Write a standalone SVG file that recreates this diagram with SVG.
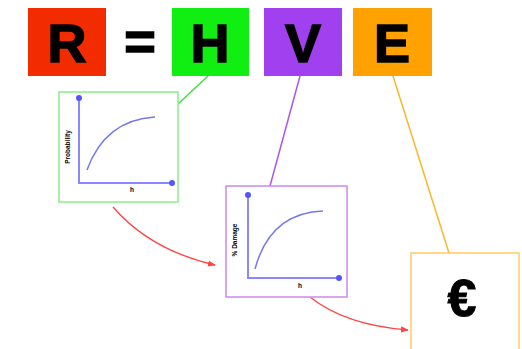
<svg xmlns="http://www.w3.org/2000/svg" width="522" height="349" viewBox="0 0 522 349">
<defs>
<style>
.big{font-family:"Liberation Sans",Arial,sans-serif;font-weight:bold;font-size:54px;fill:#000;text-anchor:middle;stroke:#000;stroke-width:1.5}
.ax{stroke:#8888ff;stroke-width:2;fill:none}
.cv{stroke:#7777ee;stroke-width:1.5;fill:none}
.lbl{font-family:"Liberation Sans",Arial,sans-serif;font-weight:bold;font-size:6.5px;fill:#000;text-anchor:middle}
.red{stroke:#ff4444;stroke-width:1.3;fill:none;marker-end:url(#ah)}
</style>
<marker id="ah" viewBox="0 0 10 10" refX="9" refY="5" markerWidth="6" markerHeight="6" orient="auto">
<path d="M0,1 L10,5 L0,9 z" fill="#ff4444"/>
</marker>
<marker id="dot" viewBox="0 0 10 10" refX="5" refY="5" markerWidth="3" markerHeight="3">
<circle cx="5" cy="5" r="5" fill="#5555ff"/>
</marker>
</defs>
<rect width="522" height="349" fill="#fff"/>
<g id="connectors">
<line x1="208" y1="76" x2="178" y2="104" stroke="#44dd44" stroke-width="1.5"/>
<line x1="300" y1="76" x2="270" y2="186" stroke="#aa55ee" stroke-width="1.5"/>
<line x1="393" y1="76" x2="449" y2="253" stroke="#f5b830" stroke-width="1.5"/>
<path class="red" d="M113,207 Q150,250 215,265"/>
<path class="red" d="M310,297 Q345,325 408,330"/>
</g>
<g id="R"><rect x="28" y="8" width="78" height="68" fill="#f32c00"/><text class="big" x="67" y="62">R</text></g>
<g id="eq"><text class="big" x="140" y="60">=</text></g>
<g id="H"><rect x="172" y="8" width="77" height="68" fill="#11ee11"/><text class="big" x="210" y="62">H</text></g>
<g id="V"><rect x="264" y="8" width="78" height="68" fill="#a040ee"/><text class="big" x="303" y="62">V</text></g>
<g id="E"><rect x="353" y="8" width="79" height="68" fill="#ffa200"/><text class="big" x="392" y="62">E</text></g>
<g id="graph1">
<rect x="59" y="92" width="119" height="110" fill="#fff" stroke="#88ee88" stroke-width="1.5"/>
<path class="ax" d="M79,98 L79,183 L172,183" marker-start="url(#dot)" marker-end="url(#dot)"/>
<path class="cv" d="M87,170 Q105,120 155,117"/>
<text class="lbl" transform="translate(70,147) rotate(-90)">Probability</text>
<text class="lbl" x="132" y="192">h</text>
</g>
<g id="graph2">
<rect x="226" y="186" width="121" height="111" fill="#fff" stroke="#cc88ee" stroke-width="1.5"/>
<path class="ax" d="M248,195 L248,278 L339,278" marker-start="url(#dot)" marker-end="url(#dot)"/>
<path class="cv" d="M255,269 Q270,213 323,211"/>
<text class="lbl" transform="translate(237,240) rotate(-90)">% Damage</text>
<text class="lbl" x="300" y="288">h</text>
</g>
<g id="euro">
<rect x="411" y="253" width="108" height="100" fill="#fff" stroke="#ffcc66" stroke-width="1.5"/>
<text x="462" y="316" font-family="Liberation Sans,Arial,sans-serif" font-weight="bold" font-size="52" text-anchor="middle" stroke="#000" stroke-width="1">€</text>
</g>
</svg>
